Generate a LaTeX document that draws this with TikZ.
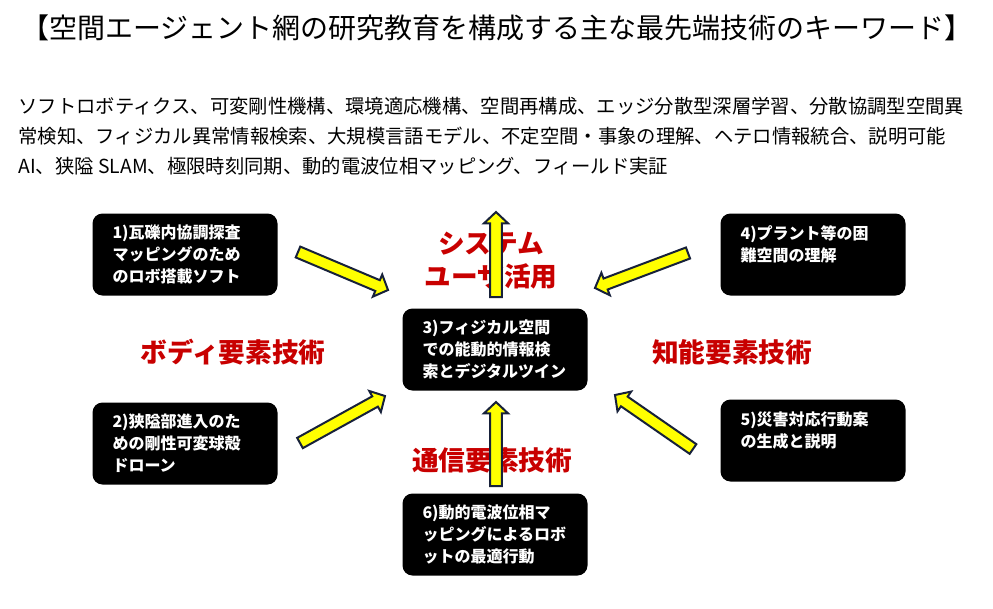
\documentclass[tikz,border=0pt]{standalone}
\usepackage{fontspec}
\setmainfont{Noto Sans CJK JP}
\usetikzlibrary{calc}

\tikzset{every picture/.style={line width=0.75pt}}
\tikzset{
  techbox/.style={fill=black, rounded corners=7.5pt, text=white, anchor=north west,
    font=\fontsize{12pt}{16.5pt}\selectfont\bfseries, align=left,
    text width=108.75pt, inner xsep=15pt, minimum height=61.5pt},
  redlabel/.style={text={rgb,255:red,200;green,0;blue,0}, align=center, inner sep=0pt,
    font=\fontsize{20pt}{24.75pt}\selectfont\bfseries},
  blockarrow/.style={draw={rgb,255:red,23;green,33;blue,58}, fill={rgb,255:red,255;green,255;blue,0},
    line width=1.5pt, line join=miter}
}
% yellow block arrow from #1 to #2
\newcommand{\yarrow}[2]{%
  \coordinate (#2-h) at ($(#2)!8.5pt!(#1)$);
  \draw [blockarrow] ($(#1)!4.4pt!90:(#2)$) -- ($(#2-h)!4.4pt!90:(#2)$) -- ($(#2-h)!9pt!90:(#2)$)
    -- (#2) -- ($(#2-h)!9pt!-90:(#2)$) -- ($(#2-h)!4.4pt!-90:(#2)$) -- ($(#1)!4.4pt!-90:(#2)$) -- cycle;}

\begin{document}
\begin{tikzpicture}[x=0.75pt,y=0.75pt,yscale=-1]
\useasboundingbox (0,0) rectangle (993,608);

% Title
\draw (497,28) node [font=\fontsize{21pt}{25pt}\selectfont] (title) {【空間エージェント網の研究教育を構成する主な最先端技術のキーワード】};
% Keywords
\draw (18,97) node [anchor=north west, inner sep=0pt, align=left, font=\fontsize{14.5pt}{22.5pt}\selectfont] (keys)
  {ソフトロボティクス、可変剛性機構、環境適応機構、空間再構成、エッジ分散型深層学習、分散協調型空間異\\
   常検知、フィジカル異常情報検索、大規模言語モデル、不定空間・事象の理解、ヘテロ情報統合、説明可能\\
   AI、狭隘 SLAM、極限時刻同期、動的電波位相マッピング、フィールド実証};

% Boxes
\draw (92,213) node [techbox] (b1) {1)瓦礫内協調探査\\マッピングのため\\のロボ搭載ソフト};
\draw (92,402) node [techbox] (b2) {2)狭隘部進入のた\\めの剛性可変球殻\\ドローン};
\draw (402,308) node [techbox] (b3) {3)フィジカル空間\\での能動的情報検\\索とデジタルツイン};
\draw (720,213) node [techbox] (b4) {4)プラント等の困\\難空間の理解\\\mbox{}};
\draw (720,399) node [techbox] (b5) {5)災害対応行動案\\の生成と説明\\\mbox{}};
\draw (402,493) node [techbox] (b6) {6)動的電波位相マ\\ッピングによるロボ\\ットの最適行動};

% Red labels
\draw (491,261) node [redlabel] (lsys) {システム\\ユーザ活用};
\draw (233,352) node [redlabel] (lbody) {ボディ要素技術};
\draw (732,352) node [redlabel] (lint) {知能要素技術};
\draw (492,460) node [redlabel] (lcom) {通信要素技術};

% Arrows
\coordinate (a1s) at (298,252); \coordinate (a1e) at (388,290);
\coordinate (a2s) at (300,443); \coordinate (a2e) at (385,396);
\coordinate (a4s) at (688,253); \coordinate (a4e) at (595,288);
\coordinate (a5s) at (693,449); \coordinate (a5e) at (615,395);
\coordinate (aus) at (496,297); \coordinate (aue) at (496,212);
\coordinate (ads) at (496,486); \coordinate (ade) at (496,402);
\yarrow{a1s}{a1e}
\yarrow{a2s}{a2e}
\yarrow{a4s}{a4e}
\yarrow{a5s}{a5e}
\yarrow{aus}{aue}
\yarrow{ads}{ade}
\end{tikzpicture}
\end{document}
